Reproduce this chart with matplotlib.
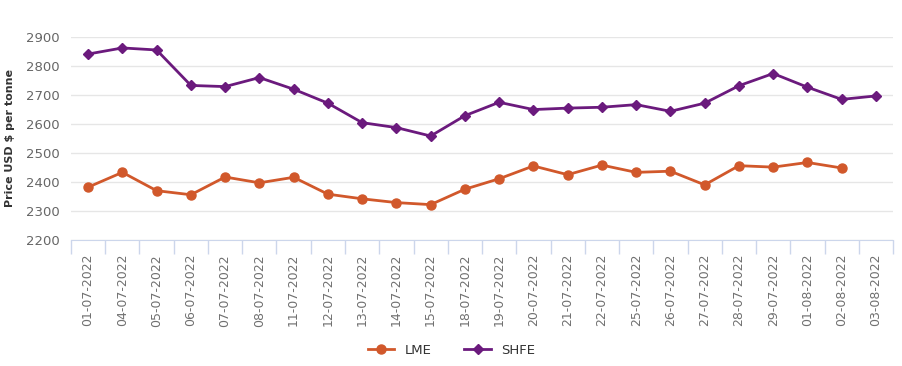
import numpy as np
import matplotlib.pyplot as plt
from matplotlib.ticker import FixedLocator

# dates on the x axis
dates = ["01-07-2022", "04-07-2022", "05-07-2022", "06-07-2022", "07-07-2022",
         "08-07-2022", "11-07-2022", "12-07-2022", "13-07-2022", "14-07-2022",
         "15-07-2022", "18-07-2022", "19-07-2022", "20-07-2022", "21-07-2022",
         "22-07-2022", "25-07-2022", "26-07-2022", "27-07-2022", "28-07-2022",
         "29-07-2022", "01-08-2022", "02-08-2022", "03-08-2022"]

# LME has no value for the last day
lme = [2382, 2433, 2370, 2356, 2417, 2397, 2416, 2358, 2342, 2329, 2322, 2375,
       2411, 2455, 2425, 2458, 2433, 2437, 2390, 2456, 2451, 2467, 2448, np.nan]
shfe = [2840, 2861, 2854, 2732, 2728, 2759, 2719, 2671, 2604, 2587, 2558, 2628,
        2674, 2649, 2654, 2657, 2666, 2643, 2671, 2731, 2773, 2726, 2684, 2696]

yticks = [2200, 2300, 2400, 2500, 2600, 2700, 2800, 2900]

lme_color = "#d1582b"
shfe_color = "#6b1a7d"
x = np.arange(len(dates))

fig = plt.figure(figsize=(9.03, 3.66), dpi=100)
ax = fig.add_axes([0.0786, 0.344, 0.9104, 0.556])

ax.plot(x, lme, color=lme_color, lw=2, marker="o", ms=6.5, label="LME")
ax.plot(x, shfe, color=shfe_color, lw=2, marker="D", ms=5, label="SHFE")

ax.set_xlim(-0.5, len(dates) - 0.5)
ax.set_ylim(2200, 2900)
ax.set_yticks(yticks)
ax.grid(axis="y", color="#e6e6e6", lw=1)
ax.set_axisbelow(True)

ax.set_xticks(x)
ax.set_xticklabels(dates, rotation=90, fontsize=9, color="#707070")
ax.tick_params(axis="x", which="major", length=0, pad=10)
ax.xaxis.set_minor_locator(FixedLocator(np.arange(-0.5, len(dates), 1)))
ax.tick_params(axis="x", which="minor", length=10, color="#ccd6eb", width=1)
ax.tick_params(axis="y", length=0, labelsize=9.5, labelcolor="#666666", pad=8)

for s in ["top", "right", "left"]:
    ax.spines[s].set_visible(False)
ax.spines["bottom"].set_color("#ccd6eb")

ax.set_ylabel("Price USD $ per tonne", fontsize=8, fontweight="bold",
              color="#333333", labelpad=8)

fig.legend(loc="center", bbox_to_anchor=(0.5, 0.043), ncol=2, frameon=False,
           fontsize=9.5, handlelength=2, columnspacing=2.5, labelcolor="#333333")

fig.savefig("out.png", dpi=100)
